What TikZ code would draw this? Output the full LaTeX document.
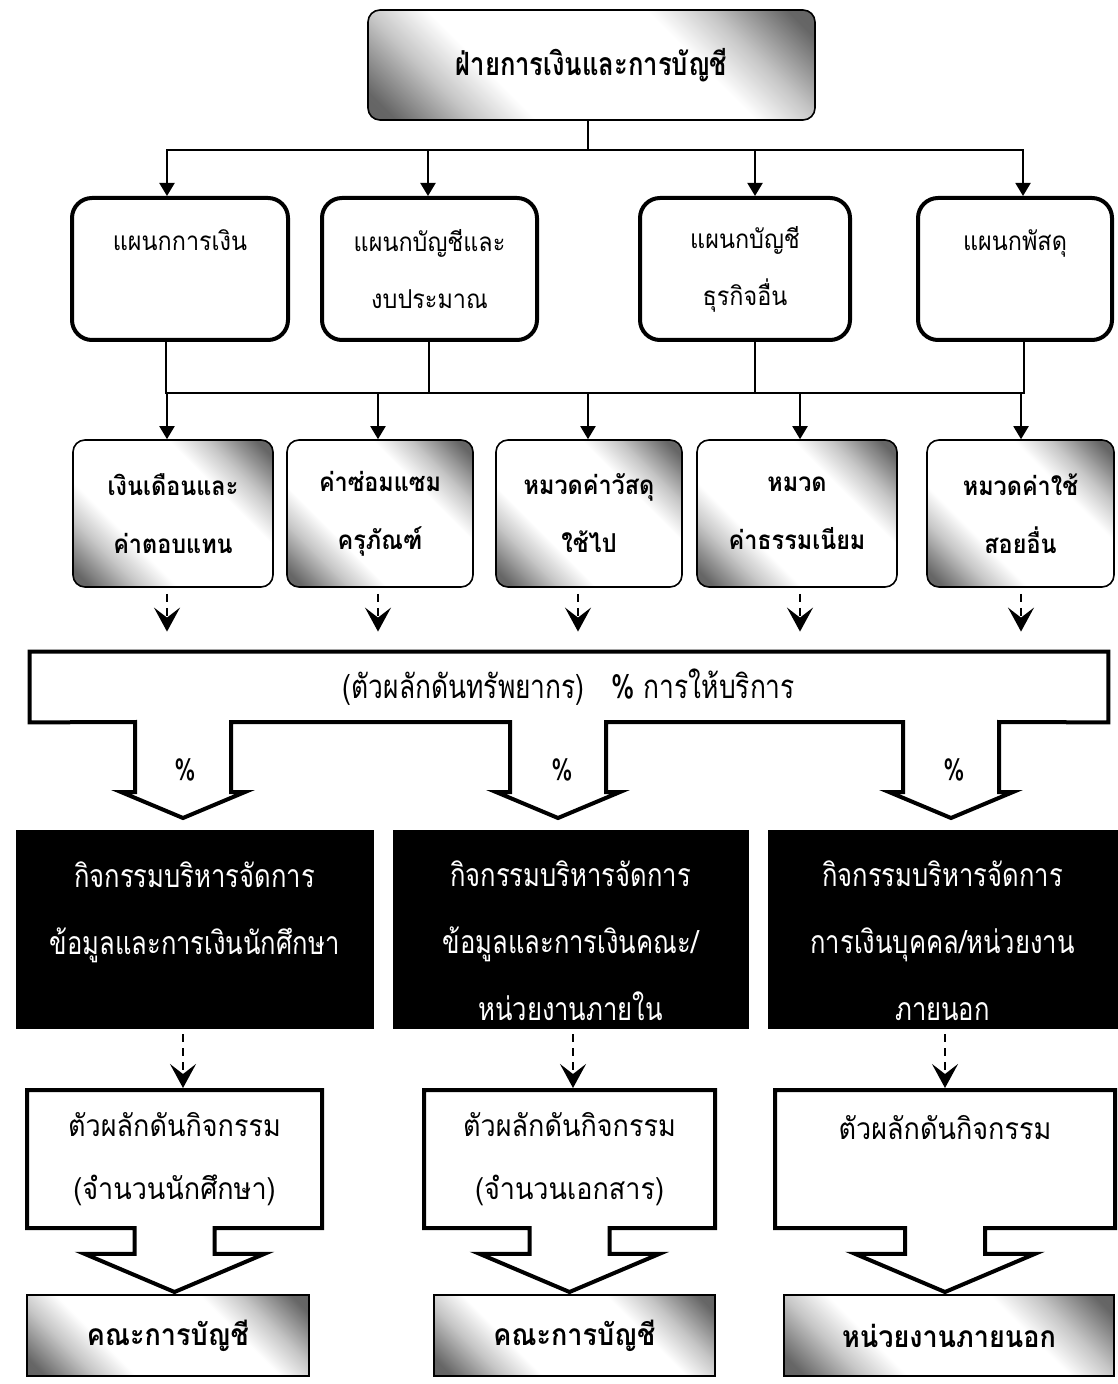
\documentclass[tikz,border=0pt]{standalone}
\usepackage{fontspec}
\newfontfamily\thai[Script=Thai,FakeStretch=0.9]{Loma}
\newfontfamily\thainarrow[Script=Thai,FakeStretch=0.8]{Loma}
\usetikzlibrary{arrows.meta, positioning, calc, shapes.arrows}

\pgfdeclareverticalshading{scanshade}{100bp}{color(0bp)=(black!65); color(18bp)=(black!60);
  color(28bp)=(gray!45); color(36bp)=(white); color(64bp)=(white); color(72bp)=(gray!45);
  color(82bp)=(black!60); color(100bp)=(black!65)}

\begin{document}
\begin{tikzpicture}[
    x=0.5pt, y=-0.5pt,
    every node/.style = {align=center},
    scanfade/.style = {shade, shading=scanshade, shading angle=-45},
    headbox/.style = {draw, rounded corners=6pt, line width=0.8pt, scanfade,
                      minimum width=223.5pt, minimum height=55pt,
                      font=\thainarrow\bfseries\fontsize{16}{18}\selectfont},
    unitbox/.style = {draw, rounded corners=10pt, line width=2pt, minimum height=71pt,
                      font=\thai\fontsize{13}{28.5}\selectfont},
    poolbox/.style = {draw, rounded corners=6pt, line width=0.8pt, scanfade,
                      minimum height=73.5pt,
                      font=\thai\bfseries\fontsize{13}{29}\selectfont},
    actbox/.style  = {draw, fill=black, text=white, minimum height=99pt,
                      font=\thainarrow\fontsize{16}{33.5}\selectfont},
    drvbox/.style  = {arrow box, draw, line width=2pt, minimum height=69pt,
                      arrow box arrows={south:31pt}, arrow box shaft width=40pt,
                      arrow box head extend=25pt, arrow box tip angle=134,
                      font=\thai\fontsize{15}{31.5}\selectfont},
    endbox/.style  = {draw, line width=0.8pt, scanfade,
                      minimum height=40.5pt, font=\thai\bfseries\fontsize{15}{18}\selectfont},
    pct/.style     = {font=\thainarrow\fontsize{15}{16}\selectfont},
    link/.style    = {line width=1pt},
    arr/.style     = {line width=1pt, -{Triangle[length=6.5pt, width=7.5pt]}},
    dasharr/.style = {line width=1pt, dash pattern=on 4pt off 3pt,
                      -{Stealth[length=12pt, width=13pt, inset=5pt]}, shorten <=3pt},
]

\useasboundingbox (0,0) rectangle (1117,1384);
\fill[white] (0,0) rectangle (1117,1384);

%% Head
\node[headbox] (head) at (591.5,65) {ฝ่ายการเงินและการบัญชี};

%% Sections
\node[unitbox, minimum width=108pt]   (fin) at (180,269)   {แผนกการเงิน\\\mbox{}};
\node[unitbox, minimum width=107.5pt] (acc) at (429.5,269) {แผนกบัญชีและ\\งบประมาณ};
\node[unitbox, minimum width=105pt]   (biz) at (745,269)   {แผนกบัญชี\\ธุรกิจอื่น};
\node[unitbox, minimum width=97pt]    (sup) at (1015,269)  {แผนกพัสดุ\\\mbox{}};

%% Cost pools
\node[poolbox, minimum width=100pt]  (sal) at (173,513.5)    {เงินเดือนและ\\ค่าตอบแทน};
\node[poolbox, minimum width=93pt]   (rep) at (380,513.5)    {ค่าซ่อมแซม\\ครุภัณฑ์};
\node[poolbox, minimum width=93pt]   (mat) at (589,513.5)    {หมวดค่าวัสดุ\\ใช้ไป};
\node[poolbox, minimum width=100pt]  (fee) at (797,513.5)    {หมวด\\ค่าธรรมเนียม};
\node[poolbox, minimum width=93.5pt] (oth) at (1020.5,513.5) {หมวดค่าใช้\\สอยอื่น};

%% Resource driver
\node[minimum width=539pt, minimum height=35pt, font=\thainarrow\fontsize{16.5}{18}\selectfont]
    (bar) at (569,687) {(ตัวผลักดันทรัพยากร)~~~\% การให้บริการ};
\draw[line width=2pt] (bar.north west) -- (bar.north east) -- (bar.south east)
    -- (999,722) -- (999,792) -- (1013,792) -- (951,818) -- (889,792) -- (903,792) -- (903,722)
    -- (606,722) -- (606,792) -- (620,792) -- (558,818) -- (496,792) -- (510,792) -- (510,722)
    -- (231,722) -- (231,792) -- (245,792) -- (183,818) -- (121,792) -- (135,792) -- (135,722)
    -- (bar.south west) -- cycle;
\node[pct] (p1) at (185,770) {\%};
\node[pct] (p2) at (562,770) {\%};
\node[pct] (p3) at (954,770) {\%};

%% Activities
\node[actbox, minimum width=178.5pt] (stu) at (194.5,929)
    {\rule{0pt}{25pt}กิจกรรมบริหารจัดการ\\ข้อมูลและการเงินนักศึกษา\\\mbox{}};
\node[actbox, minimum width=177.5pt] (fac) at (570.5,929)
    {\rule{0pt}{25pt}กิจกรรมบริหารจัดการ\\ข้อมูลและการเงินคณะ/\\หน่วยงานภายใน};
\node[actbox, minimum width=174.5pt] (ext) at (942.5,929)
    {\rule{0pt}{25pt}กิจกรรมบริหารจัดการ\\การเงินบุคคล/หน่วยงาน\\ภายนอก};

%% Activity drivers
\node[drvbox, minimum width=147.5pt] (drv1) at (174.5,1159) {ตัวผลักดันกิจกรรม\\(จำนวนนักศึกษา)};
\node[drvbox, minimum width=145.5pt] (drv2) at (569.5,1159) {ตัวผลักดันกิจกรรม\\(จำนวนเอกสาร)};
\node[drvbox, minimum width=170pt]   (drv3) at (945,1159)   {ตัวผลักดันกิจกรรม\\\mbox{}};

%% Cost objects
\node[endbox, minimum width=141pt]   (obj1) at (168,1335.5)   {คณะการบัญชี};
\node[endbox, minimum width=140.5pt] (obj2) at (574.5,1335.5) {คณะการบัญชี};
\node[endbox, minimum width=165pt]   (obj3) at (949,1335.5)   {หน่วยงานภายนอก};

%% Head to sections
\coordinate (busA) at (588,150);
\draw[link] (head.south -| busA) -- (busA);
\foreach \nd/\x in {fin/167, acc/428, biz/755, sup/1023}
    \draw[arr] (busA) -| (\nd.north -| \x,0);

%% Sections to cost pools
\coordinate (busB) at (588,393);
\foreach \nd/\x in {fin/166, acc/429, biz/755, sup/1024}
    \draw[link] (\nd.south -| \x,0) |- (busB);
\foreach \nd/\x in {sal/167, rep/378, mat/588, fee/800, oth/1021}
    \draw[arr] (busB) -| (\nd.north -| \x,0);

%% Cost pools to resource driver
\foreach \nd/\x in {sal/167, rep/378, mat/578, fee/800, oth/1021}
    \draw[dasharr, shorten >=10pt] (\nd.south -| \x,0) -- (bar.north -| \x,0);

%% Activities to activity drivers
\foreach \nd/\dd/\x in {stu/drv1/183, fac/drv2/573, ext/drv3/945}
    \draw[dasharr] (\nd.south -| \x,0) -- (\dd.north -| \x,0);

\end{tikzpicture}
\end{document}
